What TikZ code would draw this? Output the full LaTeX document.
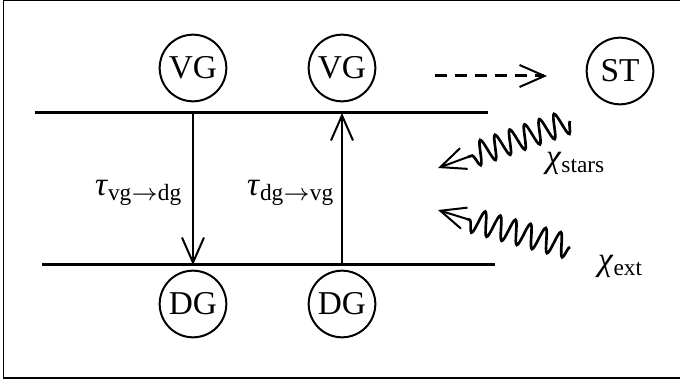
\documentclass[tikz,border=0pt]{standalone}
\usepackage{fontspec}
\setmainfont{Liberation Serif}
\usepackage{tikz}
\usetikzlibrary{positioning,arrows.meta,decorations.pathmorphing}

\tikzset{
  galaxy/.style={circle, draw, line width=0.6pt, minimum size=20pt, inner sep=0pt, font=\normalsize},
  level/.style={line width=0.9pt},
  flow/.style={line width=0.6pt, -{Straight Barb[length=7.5pt,width=6.6pt,line width=0.6pt]}},
  photon/.style={line width=0.8pt, decorate, decoration={snake, amplitude=3.6pt, segment length=4.7pt}},
}
\newcommand{\rtau}{\textit{τ}}
\newcommand{\rchi}{\textit{χ}}

\begin{document}
\begin{tikzpicture}[x=0.3pt, y=-0.3pt]
\useasboundingbox (0,0) rectangle (680,384);
\draw[line width=0.4pt] (3.5,0.5) rectangle (700,378);

\node[galaxy] (vgA) at (193,68) {VG};
\node[galaxy] (vgB) at (342,68) {VG};
\node[galaxy] (st) at (620,71) {ST};
\node[galaxy] (dgA) at (193,304) {DG};
\node[galaxy] (dgB) at (342,304) {DG};

\coordinate (topL) at (35,113);
\coordinate (topR) at (488,113);
\coordinate (botL) at (42,265);
\coordinate (botR) at (495,265);
\draw[level] (topL) -- (topR);
\draw[level] (botL) -- (botR);

\draw[flow] (vgA |- topL) -- (dgA |- botL);
\draw[flow] (dgB |- botL) -- (vgB |- topL);
\node (tauD) at (139,193) {\rtau\textsubscript{vg$\rightarrow$dg}};
\node (tauU) at (291,193) {\rtau\textsubscript{dg$\rightarrow$vg}};

\coordinate (ejS) at (435,76);
\coordinate (ejE) at (547,76);
\draw[flow, line width=0.9pt, dash pattern=on 3.6pt off 2.4pt] (ejS) -- (ejE);

\coordinate (starsA) at (570,121);
\coordinate (starsB) at (468,157);
\coordinate (starsT) at (438,168);
\draw[photon] (starsA) -- (starsB);
\draw[flow] (starsB) -- (starsT);
\node (chiS) at (576,163) {\rchi\textsubscript{stars}};

\coordinate (extA) at (570,247);
\coordinate (extB) at (467,219);
\coordinate (extT) at (438,210);
\draw[photon] (extA) -- (extB);
\draw[flow] (extB) -- (extT);
\node (chiE) at (621,266) {\rchi\textsubscript{ext}};
\end{tikzpicture}
\end{document}
